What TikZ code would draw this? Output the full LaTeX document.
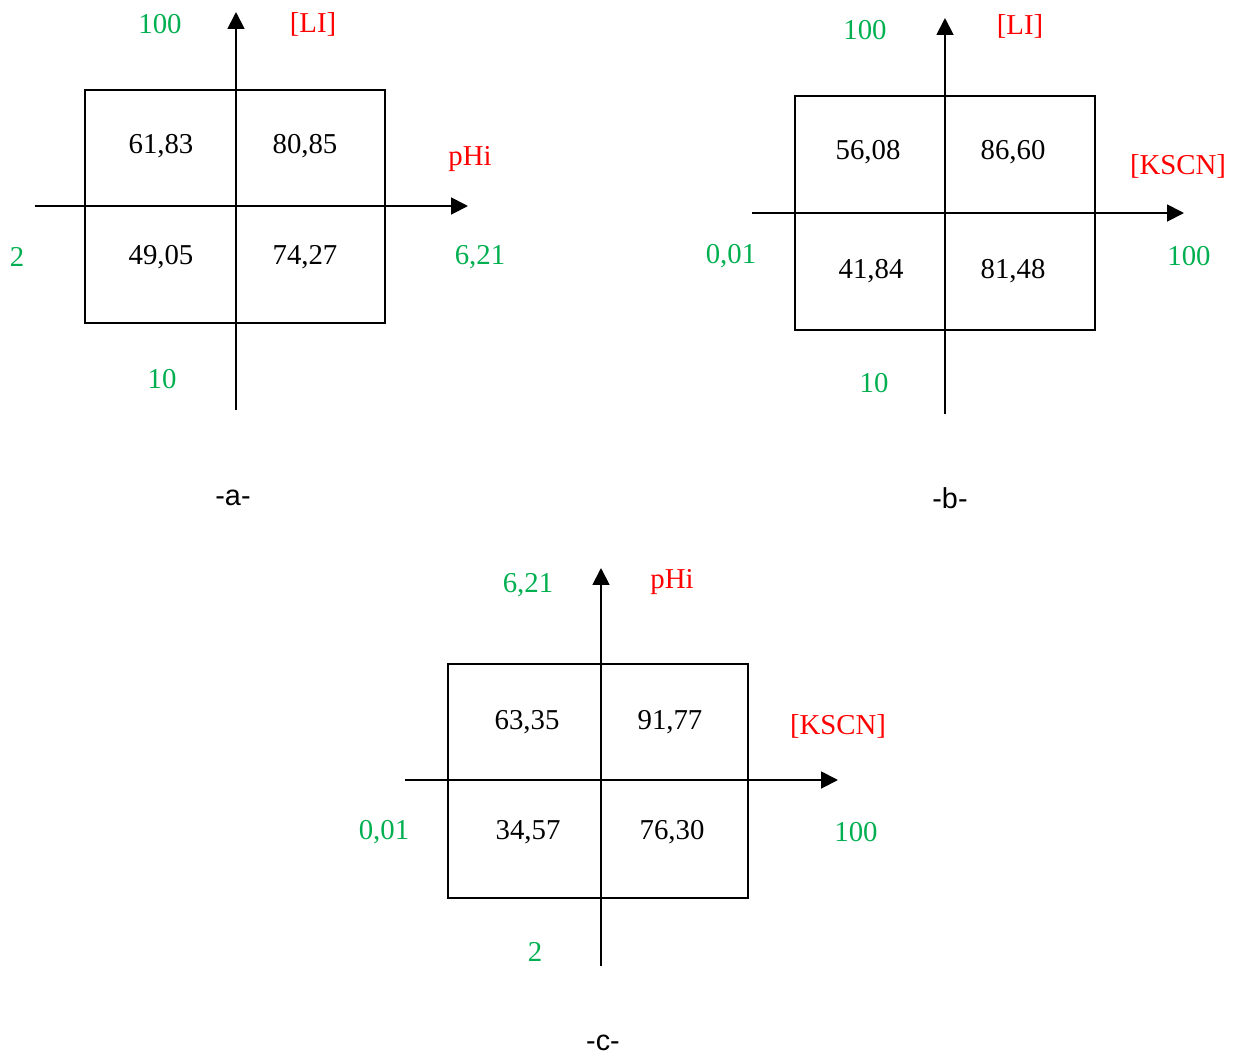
\documentclass[tikz,border=0pt]{standalone}
\usepackage{fontspec}
\setmainfont{Liberation Serif}
\setsansfont{Liberation Sans}
\usetikzlibrary{arrows.meta}
\definecolor{lvlgreen}{RGB}{0,176,80}
\begin{document}
\begin{tikzpicture}[
    x=0.4167pt, y=-0.4167pt,
    axis/.style={-{Triangle[length=7pt,width=7pt]}, line width=0.8pt},
    cell/.style={draw, line width=0.8pt},
    level/.style={text=lvlgreen, font=\fontsize{12}{14}\selectfont},
    factor/.style={text=red, font=\fontsize{12}{14}\selectfont},
    effect/.style={font=\fontsize{12}{14}\selectfont},
    caption/.style={font=\sffamily\fontsize{12}{14}\selectfont, inner sep=1pt}
    ]
    \useasboundingbox (0,0) rectangle (1239,1055);

    % -a- : [LI] versus pHi
    \draw[cell] (85,90) rectangle (385,323);
    \coordinate (a-bottom) at (236,410);
    \coordinate (a-top) at (236,12);
    \coordinate (a-left) at (35,206);
    \coordinate (a-right) at (468,206);
    \draw[axis] (a-bottom) -- (a-top);
    \draw[axis] (a-left) -- (a-right);
    \node[level] (a-yhigh) at (160,24) {100};
    \node[factor] (a-yname) at (313,24) {[LI]};
    \node[factor] (a-xname) at (470,159) {pHi};
    \node[level] (a-xlow) at (17,257) {2};
    \node[level] (a-xhigh) at (480,257) {6,21};
    \node[level] (a-ylow) at (162,379) {10};
    \node[effect] (a-11) at (161,146) {61,83};
    \node[effect] (a-12) at (305,146) {80,85};
    \node[effect] (a-21) at (161,257) {49,05};
    \node[effect] (a-22) at (305,257) {74,27};
    \node[caption] (a-cap) at (233,498) {-a-};

    % -b- : [LI] versus [KSCN]
    \draw[cell] (795,96) rectangle (1095,330);
    \coordinate (b-bottom) at (945,414);
    \coordinate (b-top) at (945,18);
    \coordinate (b-left) at (752,213);
    \coordinate (b-right) at (1184,213);
    \draw[axis] (b-bottom) -- (b-top);
    \draw[axis] (b-left) -- (b-right);
    \node[level] (b-yhigh) at (865,30) {100};
    \node[factor] (b-yname) at (1020,26) {[LI]};
    \node[factor] (b-xname) at (1178,166) {[KSCN]};
    \node[level] (b-xlow) at (731,256) {0,01};
    \node[level] (b-xhigh) at (1189,256) {100};
    \node[level] (b-ylow) at (874,383) {10};
    \node[effect] (b-11) at (868,152) {56,08};
    \node[effect] (b-12) at (1013,152) {86,60};
    \node[effect] (b-21) at (871,271) {41,84};
    \node[effect] (b-22) at (1013,271) {81,48};
    \node[caption] (b-cap) at (950,498) {-b-};

    % -c- : pHi versus [KSCN]
    \draw[cell] (448,664) rectangle (748,898);
    \coordinate (c-bottom) at (601,966);
    \coordinate (c-top) at (601,568);
    \coordinate (c-left) at (405,780);
    \coordinate (c-right) at (838,780);
    \draw[axis] (c-bottom) -- (c-top);
    \draw[axis] (c-left) -- (c-right);
    \node[level] (c-yhigh) at (528,585) {6,21};
    \node[factor] (c-yname) at (672,582) {pHi};
    \node[factor] (c-xname) at (838,726) {[KSCN]};
    \node[level] (c-xlow) at (384,832) {0,01};
    \node[level] (c-xhigh) at (856,832) {100};
    \node[level] (c-ylow) at (535,952) {2};
    \node[effect] (c-11) at (527,722) {63,35};
    \node[effect] (c-12) at (670,722) {91,77};
    \node[effect] (c-21) at (528,832) {34,57};
    \node[effect] (c-22) at (672,832) {76,30};
    \node[caption] (c-cap) at (603,1043) {-c-};

\end{tikzpicture}
\end{document}
